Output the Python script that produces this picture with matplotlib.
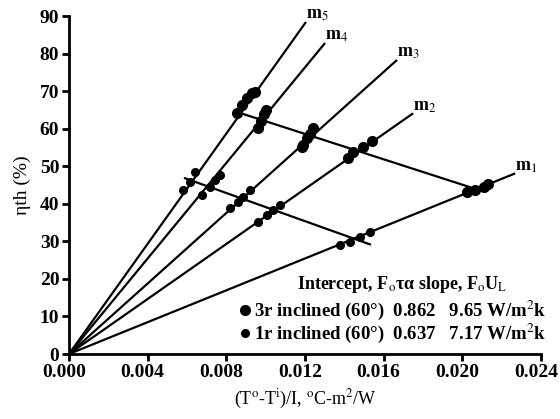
import matplotlib
matplotlib.use("Agg")
import matplotlib.pyplot as plt
import matplotlib.transforms as mtransforms

plt.rcParams['font.family'] = 'Liberation Serif'
plt.rcParams['mathtext.fontset'] = 'stix'

# lines through the origin, end points
m_labels = ['m$_1$', 'm$_2$', 'm$_3$', 'm$_4$', 'm$_5$']
end_x = [0.02269, 0.0175, 0.01668, 0.01302, 0.01205]
end_y = [48.1, 64.1, 78.3, 82.8, 88.4]

# 3r inclined (upper clusters)
r3_x = [
    [0.02023, 0.02065, 0.02108, 0.02133],
    [0.01421, 0.01446, 0.01497, 0.01540],
    [0.01184, 0.01192, 0.01209, 0.01226, 0.01243],
    [0.00963, 0.00975, 0.00990, 0.01002],
    [0.00853, 0.00878, 0.00904, 0.00929, 0.00945],
]
r3_y = [
    [43.2, 43.7, 44.5, 45.4],
    [52.1, 53.9, 55.2, 56.7],
    [55.2, 55.6, 57.4, 58.7, 60.1],
    [60.3, 62.0, 63.8, 65.0],
    [64.1, 66.3, 68.1, 69.4, 69.8],
]

# 1r inclined (lower clusters)
r1_x = [
    [0.01379, 0.01430, 0.01480, 0.01531],
    [0.00963, 0.01006, 0.01039, 0.01073],
    [0.00819, 0.00861, 0.00887, 0.00921],
    [0.00675, 0.00717, 0.00743, 0.00768],
    [0.00582, 0.00615, 0.00641],
]
r1_y = [
    [29.0, 29.9, 31.2, 32.6],
    [35.2, 37.0, 38.3, 39.7],
    [38.8, 40.5, 41.9, 43.7],
    [42.3, 44.5, 46.3, 47.7],
    [43.7, 45.9, 48.5],
]

# connecting lines
upper_x = [0.00845, 0.0210]
upper_y = [64.6, 43.4]
lower_x = [0.0059, 0.0153]
lower_y = [46.8, 29.2]

fig = plt.figure(figsize=(5.6, 4.19), dpi=100)
ax = fig.add_axes([0.1232, 0.1551, 0.966 - 0.1232, 0.9618 - 0.1551])

for lab, xe, ye in zip(m_labels, end_x, end_y):
    ax.plot([0, xe], [0, ye], color='black', lw=1.6, solid_capstyle='butt')
    ax.annotate(lab, (xe, ye), xytext=(0, -1), textcoords='offset points',
                ha='left', va='bottom', fontsize=13, fontweight='bold')

ax.plot(upper_x, upper_y, color='black', lw=1.6)
ax.plot(lower_x, lower_y, color='black', lw=1.6)

for xs, ys in zip(r3_x, r3_y):
    ax.plot(xs, ys, 'o', color='black', ms=7, ls='none')
for xs, ys in zip(r1_x, r1_y):
    ax.plot(xs, ys, 'o', color='black', ms=5.5, ls='none')

ax.set_xlim(0, 0.024)
ax.set_ylim(0, 90)
ax.set_xticks([0.000, 0.004, 0.008, 0.012, 0.016, 0.020, 0.024])
ax.set_xticklabels(['0.000', '0.004', '0.008', '0.012', '0.016', '0.020', '0.024'])
ax.set_yticks(range(0, 91, 10))
for s in ['top', 'right']:
    ax.spines[s].set_visible(False)
for s in ['left', 'bottom']:
    ax.spines[s].set_linewidth(2)
ax.tick_params(width=2, length=5, labelsize=14, pad=2)
for t in ax.get_xticklabels() + ax.get_yticklabels():
    t.set_fontweight('bold')
# the x labels sit a little left of their ticks in the original
shift = mtransforms.ScaledTranslation(-5 / 100, 0, fig.dpi_scale_trans)
for t in ax.get_xticklabels():
    t.set_transform(t.get_transform() + shift)

ax.set_xlabel(r'(T$^{\mathrm{o}}$-T$^{\mathrm{i}}$)/I, $^{\mathrm{o}}$C-m$^{2}$/W', fontsize=13, labelpad=5)
ax.set_ylabel('ηth (%)', fontsize=14, labelpad=6)

# legend block
ax.text(0.0116, 18.4, r'Intercept, F$_{\mathrm{o}}$τα slope, F$_{\mathrm{o}}$U$_{\mathrm{L}}$',
        fontsize=13, fontweight='bold', va='center', ha='left')
ax.plot([0.00895], [11.7], 'o', color='black', ms=7)
ax.plot([0.00895], [5.6], 'o', color='black', ms=5.5)
ax.text(0.0094, 11.7, '3r inclined (60°)  0.862   9.65 W/m$^2$k',
        fontsize=13.5, fontweight='bold', va='center', ha='left')
ax.text(0.0094, 5.6, '1r inclined (60°)  0.637   7.17 W/m$^2$k',
        fontsize=13.5, fontweight='bold', va='center', ha='left')

fig.savefig('out.png', dpi=100)
